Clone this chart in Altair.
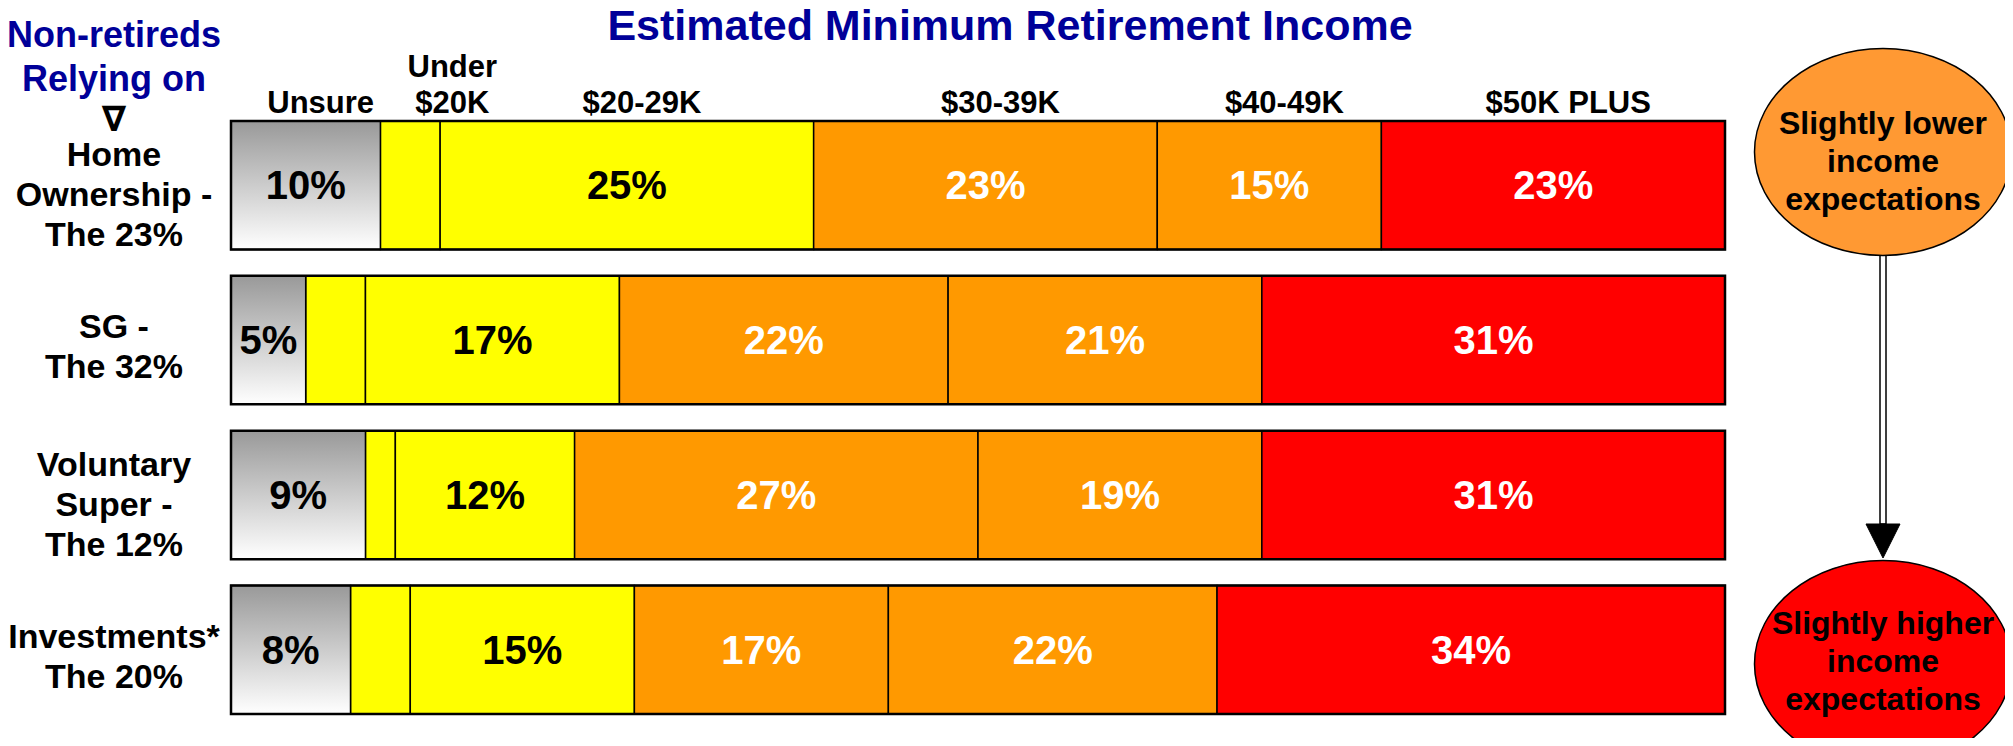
import altair as alt
import pandas as pd

# ---------------- data ----------------
rows = ["Home Ownership", "SG", "Voluntary Super", "Investments"]
row_labels = ["Home\nOwnership -\nThe 23%", "SG -\nThe 32%",
              "Voluntary\nSuper -\nThe 12%", "Investments*\nThe 20%"]
categories = ["Unsure", "Under $20K", "$20-29K", "$30-39K", "$40-49K", "$50K PLUS"]
header_labels = ["Unsure", "Under\n$20K", "$20-29K", "$30-39K", "$40-49K", "$50K PLUS"]

home_ownership = [10, 4, 25, 23, 15, 23]
sg = [5, 4, 17, 22, 21, 31]
voluntary_super = [9, 2, 12, 27, 19, 31]
investments = [8, 4, 15, 17, 22, 34]

title_text = "Estimated Minimum Retirement Income"
side_title = "Non-retireds\nRelying on"
side_symbol = "\u2207"
bubble_low = "Slightly lower\nincome\nexpectations"
bubble_high = "Slightly higher\nincome\nexpectations"

# ---------------- styles ----------------
seg_colors = ["#cccccc", "#FFFF00", "#FFFF00", "#FF9900", "#FF9900", "#FF0000"]
white_text = ["$30-39K", "$40-49K", "$50K PLUS"]
FONT = "Liberation Sans"
NAVY = "#000099"

# ---------------- tables ----------------
series = [home_ownership, sg, voluntary_super, investments]
recs = []
for r, vals in zip(rows, series):
    start = 0
    for c, v in zip(categories, vals):
        recs.append({"row": r, "category": c, "value": v, "start": start,
                     "end": start + v, "mid": start + v / 2,
                     "label": f"{v}%", "show": c != "Under $20K",
                     "lc": "white" if c in white_text else "black"})
        start += v
seg = pd.DataFrame(recs)
outline = seg.groupby("row", as_index=False).agg(start=("start", "min"), end=("end", "max"))
labels_df = pd.DataFrame({"row": rows, "text": row_labels})
labels_df["lines"] = [t.count("\n") + 1 for t in row_labels]
header_df = seg[seg["row"] == rows[0]].copy()
header_df["header"] = header_labels
header_df["lines"] = [t.count("\n") + 1 for t in header_labels]

one = pd.DataFrame({"a": [0]})

xs = alt.Scale(domain=[0, 100], range=[223, 1717], nice=False, zero=False)
ys = alt.Scale(domain=rows, range=[113, 706], paddingInner=0.17, paddingOuter=0)
X = lambda f: alt.X(f, type="quantitative", scale=xs, axis=None)
Y = alt.Y("row:N", scale=ys, sort=rows, axis=None)

gradient = alt.Gradient(
    gradient="linear",
    stops=[alt.GradientStop(color="#999999", offset=0),
           alt.GradientStop(color="#ffffff", offset=1)],
    x1=0, x2=0, y1=0, y2=1)

bars = alt.Chart(seg).transform_filter("datum.category != 'Unsure'").mark_bar(
    stroke="black", strokeWidth=1.5).encode(
    x=X("start"), x2="end", y=Y,
    color=alt.Color("category:N", scale=alt.Scale(domain=categories, range=seg_colors), legend=None))

unsure = alt.Chart(seg).transform_filter("datum.category == 'Unsure'").mark_bar(
    color=gradient, stroke="black", strokeWidth=1.5).encode(
    x=X("start"), x2="end", y=Y)

frame = alt.Chart(outline).mark_bar(filled=False, stroke="black", strokeWidth=2.5).encode(
    x=X("start"), x2="end", y=Y)

pct = alt.Chart(seg).transform_filter("datum.show").mark_text(
    font=FONT, fontWeight="bold", fontSize=40, baseline="middle", align="center", dy=2).encode(
    x=X("mid"), y=Y, text="label:N",
    color=alt.condition("datum.lc == 'white'", alt.value("white"), alt.value("black")))

hdr_style = dict(font=FONT, fontWeight="bold", fontSize=31, baseline="alphabetic",
                 align="center", lineBreak="\n", lineHeight=36, color="black")
headers1 = alt.Chart(header_df).transform_filter("datum.lines == 1").mark_text(
    dx=15, **hdr_style).encode(x=X("mid"), y=alt.value(105), text="header:N")
headers2 = alt.Chart(header_df).transform_filter("datum.lines == 2").mark_text(
    dx=42, **hdr_style).encode(x=X("mid"), y=alt.value(69), text="header:N")

lab_style = dict(font=FONT, fontWeight="bold", fontSize=34, baseline="alphabetic",
                 align="center", lineBreak="\n", lineHeight=40, color="black")
rows3 = alt.Chart(labels_df).transform_filter("datum.lines == 3").mark_text(
    dy=-19, **lab_style).encode(x=alt.value(106), y=Y, text="text:N")
rows2 = alt.Chart(labels_df).transform_filter("datum.lines == 2").mark_text(
    dy=-2, **lab_style).encode(x=alt.value(106), y=Y, text="text:N")

title = alt.Chart(one).mark_text(
    font=FONT, fontWeight="bold", fontSize=43, baseline="alphabetic", align="center",
    color=NAVY, text=title_text).encode(x=alt.value(1002), y=alt.value(32))

side = alt.Chart(one).mark_text(
    font=FONT, fontWeight="bold", fontSize=36, baseline="top", align="center",
    lineBreak="\n", lineHeight=44, color=NAVY, text=side_title).encode(
    x=alt.value(106), y=alt.value(11))

sym = alt.Chart(one).mark_text(
    font="DejaVu Sans", fontWeight="bold", fontSize=35, baseline="middle", align="center",
    color="black", text=side_symbol).encode(x=alt.value(106), y=alt.value(112))

ELLIPSE = "M -1 0 A 1 0.805 0 1 0 1 0 A 1 0.805 0 1 0 -1 0 Z"
e_low = alt.Chart(one).mark_point(
    shape=ELLIPSE, filled=True, fill="#FF9933", stroke="black", strokeWidth=1.5,
    size=257 * 257, opacity=1).encode(x=alt.value(1875), y=alt.value(144))
e_high = alt.Chart(one).mark_point(
    shape=ELLIPSE, filled=True, fill="#FF0000", stroke="black", strokeWidth=1.5,
    size=257 * 257, opacity=1).encode(x=alt.value(1875), y=alt.value(656))

bub_style = dict(font=FONT, fontWeight="bold", fontSize=32, baseline="alphabetic",
                 align="center", lineBreak="\n", lineHeight=38, color="black")
t_low = alt.Chart(one).mark_text(text=bubble_low, **bub_style).encode(
    x=alt.value(1875), y=alt.value(126))
t_high = alt.Chart(one).mark_text(text=bubble_high, **bub_style).encode(
    x=alt.value(1875), y=alt.value(626))

shaft = alt.Chart(one).mark_rect(fill="white", stroke="black", strokeWidth=1.5).encode(
    x=alt.value(1872), x2=alt.value(1878), y=alt.value(247), y2=alt.value(516))
head = alt.Chart(one).mark_point(
    shape="M -1 -1 L 1 -1 L 0 1 Z", filled=True, fill="black", stroke="black",
    strokeWidth=1, size=34 * 34, opacity=1).encode(x=alt.value(1875), y=alt.value(533))

chart = alt.layer(
    bars, unsure, frame, pct, headers1, headers2, rows3, rows2, title, side, sym,
    shaft, head, e_low, e_high, t_low, t_high
).properties(
    width=1997, height=730,
    autosize=alt.AutoSizeParams(type="none"), padding=0
).configure_view(stroke=None)

chart.save("out.html", embed_options={"renderer": "svg", "actions": False})
